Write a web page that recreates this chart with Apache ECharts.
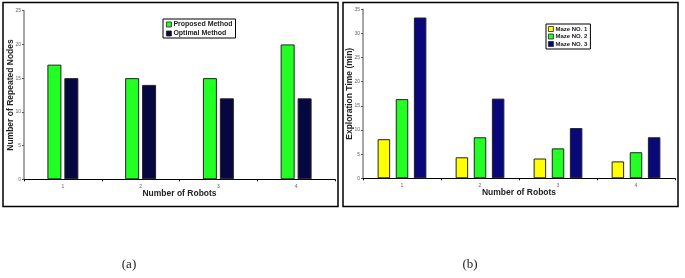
<!DOCTYPE html>
<html><head><meta charset="utf-8">
<script src="https://cdn.jsdelivr.net/npm/echarts@6/dist/echarts.min.js"></script>
<style>html,body{margin:0;padding:0;background:#fff}#c{width:685px;height:278px}</style>
</head><body><div id="c"></div>
<script>
const robots = ['1','2','3','4'];
const proposed = [17, 15, 15, 20];
const optimal = [15, 14, 12, 12];
const maze1 = [8.1, 4.35, 4.1, 3.5];
const maze2 = [16.4, 8.5, 6.2, 5.4];
const maze3 = [33.3, 16.5, 10.4, 8.5];

const chart = echarts.init(document.getElementById('c'));
const FONT = 'Liberation Sans';
function xAxis(gi){
  return {type:'category', gridIndex:gi, data:robots,
    axisLine:{lineStyle:{color:'#000',width:1}},
    axisTick:{show:true,length:2,lineStyle:{color:'#000'}},
    axisLabel:{fontSize:5,color:'#666',margin:5,fontFamily:FONT},
    name:'Number of Robots', nameLocation:'middle', nameGap:10, nameMoveOverlap:false,
    nameTextStyle:{fontSize:8.5,fontWeight:'bold',color:'#222',fontFamily:FONT}};
}
function yAxis(gi,max,name){
  return {type:'value', gridIndex:gi, min:0, max:max, interval:5,
    splitLine:{show:false},
    axisLine:{show:true,lineStyle:{color:'#888',width:1.5}},
    axisTick:{show:true,length:2,lineStyle:{color:'#555'}},
    axisLabel:{fontSize:5,color:'#666',margin:3,fontFamily:FONT},
    name:name, nameLocation:'middle', nameGap:9, nameMoveOverlap:false,
    nameTextStyle:{fontSize:8.5,fontWeight:'bold',color:'#222',fontFamily:FONT}};
}
const bs = {borderColor:'#222',borderWidth:1};
const legIcon = 'rect';
chart.setOption({
  animation:false,
  grid:[{left:24,top:10.7,right:350,bottom:98.7},{left:363,top:9.3,right:10,bottom:99.7}],
  xAxis:[xAxis(0),xAxis(1)],
  yAxis:[yAxis(0,25,'Number of Repeated Nodes'),yAxis(1,35,'Exploration Time (min)')],
  legend:[
    {data:['Proposed Method','Optimal Method'],orient:'vertical',left:163,top:19,icon:legIcon,
     itemWidth:5,itemHeight:5,itemGap:2,padding:[2,3,1,3],borderColor:'#000',borderWidth:1,
     itemStyle:{borderColor:'#222',borderWidth:0.8},
     textStyle:{fontSize:7,fontWeight:'bold',color:'#222',fontFamily:FONT,padding:[0,0,0,-3]}},
    {data:['Maze NO. 1','Maze NO. 2','Maze NO. 3'],orient:'vertical',left:546,top:24,icon:legIcon,
     itemWidth:5,itemHeight:5,itemGap:1.5,padding:[2,3,2,2],borderColor:'#000',borderWidth:1,
     itemStyle:{borderColor:'#222',borderWidth:0.8},
     textStyle:{fontSize:6,fontWeight:'bold',color:'#222',fontFamily:FONT,padding:[0,0,0,-3]}}
  ],
  series:[
    {name:'Proposed Method',type:'bar',xAxisIndex:0,yAxisIndex:0,data:proposed,barWidth:14,barGap:'21%',itemStyle:Object.assign({color:'#22ff22'},bs)},
    {name:'Optimal Method',type:'bar',xAxisIndex:0,yAxisIndex:0,data:optimal,barWidth:14,barGap:'21%',itemStyle:Object.assign({color:'#060640'},bs)},
    {name:'Maze NO. 1',type:'bar',xAxisIndex:1,yAxisIndex:1,data:maze1,barWidth:12.5,barGap:'45%',itemStyle:Object.assign({color:'#ffff00'},bs)},
    {name:'Maze NO. 2',type:'bar',xAxisIndex:1,yAxisIndex:1,data:maze2,barWidth:12.5,barGap:'45%',itemStyle:Object.assign({color:'#22ff22'},bs)},
    {name:'Maze NO. 3',type:'bar',xAxisIndex:1,yAxisIndex:1,data:maze3,barWidth:12.5,barGap:'45%',itemStyle:Object.assign({color:'#08087a'},bs)}
  ],
  graphic:[
    {type:'rect',shape:{x:3,y:2.5,width:335,height:204},style:{fill:'none',stroke:'#000',lineWidth:1.5},silent:true},
    {type:'rect',shape:{x:343,y:2.5,width:335,height:204},style:{fill:'none',stroke:'#000',lineWidth:1.5},silent:true},
    {type:'text',x:129,y:265,style:{text:'(a)',font:'13px "Liberation Serif"',fill:'#222',align:'center',verticalAlign:'middle'}},
    {type:'text',x:470,y:265,style:{text:'(b)',font:'13px "Liberation Serif"',fill:'#222',align:'center',verticalAlign:'middle'}}
  ]
});
</script></body></html>
